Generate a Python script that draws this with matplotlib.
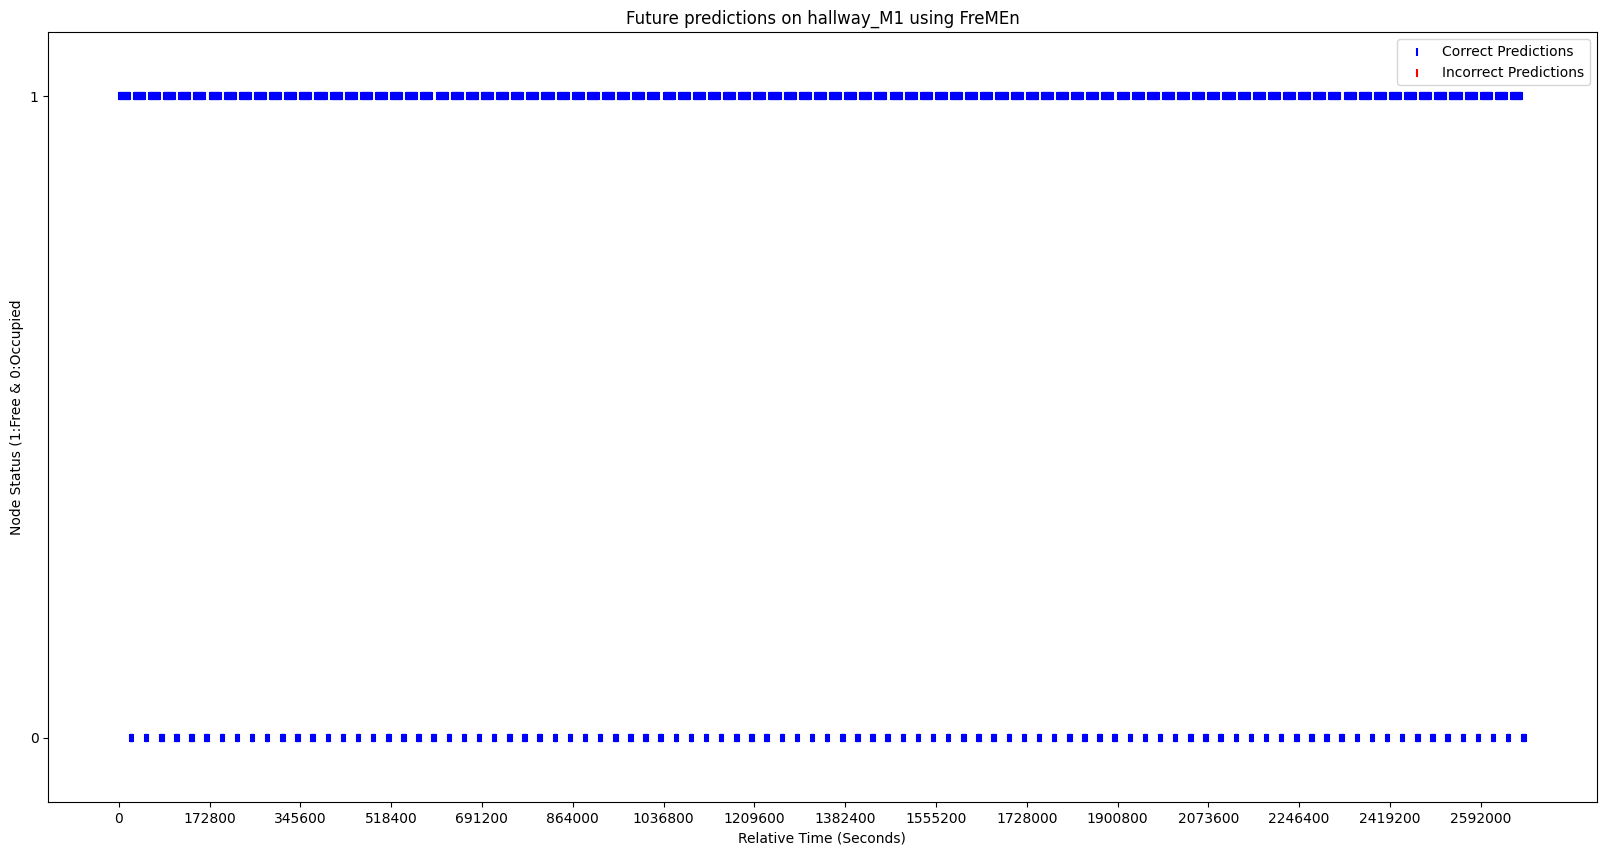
#!/usr/bin/env python3
# -*- coding: utf-8 -*-

#------------------------------------------------------------------------------
# PLOT: FreMEn future predictions on hallway_M1
#------------------------------------------------------------------------------

import numpy as np
import matplotlib as mpl
mpl.use('agg')
import matplotlib.pyplot as plt

#------------------------------------------------------------------------------
# DATA (hours since start of run)
#------------------------------------------------------------------------------

# start of each prediction cycle (hours)
cycle_start_h = [
      0,   8,  16,  24,  32,  40,  48,  56,  64,  72,  80,  88,  96, 104, 112, 120,
    128, 136, 144, 152, 160, 168, 176, 184, 192, 200, 208, 216, 224, 232, 240, 248,
    256, 264, 272, 280, 288, 296, 304, 312, 320, 328, 336, 344, 352, 360, 368, 376,
    384, 392, 400, 408, 416, 424, 432, 440, 448, 456, 464, 472, 480, 488, 496, 504,
    512, 520, 528, 536, 544, 552, 560, 568, 576, 584, 592, 600, 608, 616, 624, 632,
    640, 648, 656, 664, 672, 680, 688, 696, 704, 712, 720, 728, 736,
]

# within each cycle: node free, then occupied (hours after cycle start)
free_from_h = 0.0
free_to_h = 5.85
occupied_from_h = 5.85
occupied_to_h = 7.7

# no incorrect predictions in this run
incorrect_t = []
incorrect_y = []

tick_step = 172800
t_end = 2678400

#------------------------------------------------------------------------------
# PLOT
#------------------------------------------------------------------------------

starts = np.array(cycle_start_h) * 3600.0
free_a = starts + free_from_h * 3600
free_b = starts + free_to_h * 3600
occ_a = starts + occupied_from_h * 3600
occ_b = starts + occupied_to_h * 3600

fig = plt.figure(figsize=(16.11, 8.55), dpi=100)
ax = fig.add_axes([0.030, 0.062, 0.961, 0.9005])

ms = 6.0  # marker size in points (default scatter s=36)

# runs of correct predictions: dense '|' markers merge into solid blocks
ax.hlines(np.ones(len(starts)), free_a, free_b, colors='blue', lw=ms, capstyle='butt')
ax.hlines(np.zeros(len(starts)), occ_a, occ_b, colors='blue', lw=ms, capstyle='butt')
ax.scatter(np.concatenate([free_a, free_b, occ_a, occ_b]),
           np.concatenate([np.ones(len(starts)*2), np.zeros(len(starts)*2)]),
           marker='|', c='blue', label='Correct Predictions')
ax.scatter(incorrect_t, incorrect_y, marker='|', c='red', label='Incorrect Predictions')

ax.set_xlim(-0.05 * t_end, 1.05 * t_end)
ax.set_ylim(-0.1, 1.1)
ax.set_xticks(np.arange(0, t_end, tick_step))
ax.set_yticks([0, 1])
ax.ticklabel_format(axis='x', style='plain', useOffset=False)

ax.set_title('Future predictions on hallway_M1 using FreMEn')
ax.set_xlabel('Relative Time (Seconds)')
ax.set_ylabel('Node Status (1:Free & 0:Occupied')
ax.legend(loc='upper right')

plt.savefig('out.png', dpi=100)
plt.close('all')

#------------------------------------------------------------------------------
print('** END')
